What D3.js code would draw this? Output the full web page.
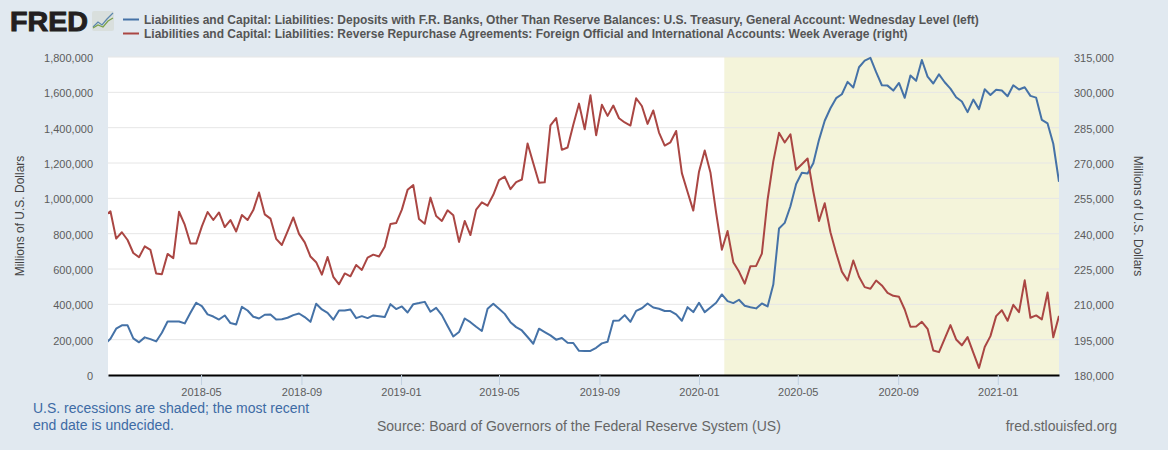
<!DOCTYPE html>
<html>
<head>
<meta charset="utf-8">
<script src="https://cdn.jsdelivr.net/npm/d3@7"></script>
<style>
  html, body { margin: 0; padding: 0; background: #e1e9f0; }
  svg { display: block; font-family: "Liberation Sans", Arial, sans-serif; }
  text { fill: #666; }
</style>
</head>
<body>
<div id="chart"></div>
<script>
// weekly readings, Millions of U.S. Dollars (left axis), in thousands
var treasury = [173,205,262,281,281,207,185,213,203,190,239,303,303,303,292,352,409,390,343,331,314,337,294,286,386,365,330,320,341,343,314,316,324,339,348,328,301,403,371,352,313,365,365,371,322,333,322,337,333,328,401,373,388,354,401,407,414,358,380,339,277,218,243,320,299,273,249,375,403,375,346,299,271,252,215,177,262,243,224,200,209,183,181,137,136,136,154,179,188,307,309,339,301,363,378,405,382,375,362,362,343,307,384,356,409,356,382,409,456,418,407,426,392,384,377,405,388,512,829,861,955,1081,1145,1141,1199,1331,1439,1510,1567,1589,1659,1627,1742,1779,1795,1714,1640,1638,1610,1653,1569,1695,1665,1783,1689,1650,1702,1657,1621,1572,1548,1488,1559,1505,1617,1585,1614,1610,1578,1640,1616,1629,1580,1570,1444,1424,1309,1094];

// week average, Millions of U.S. Dollars (right axis), in thousands
var reverseRepo = [247.6,249.5,237.9,240.6,237.3,231.8,230.0,234.6,233.1,223.1,222.8,231.4,229.6,249.3,243.8,235.8,235.8,243.1,249.2,245.8,249.0,242.8,245.8,240.9,247.9,245.8,250.0,257.5,248.2,246.4,237.8,235.2,241.0,246.9,239.9,236.3,230.3,227.9,222.6,230.1,221.7,218.5,223.1,221.9,226.7,224.6,229.8,231.1,230.3,234.4,244.1,244.5,250.2,258.6,260.6,246.2,244.2,255.3,247.5,245.4,249.9,247.8,236.5,245.4,239.4,250.2,253.3,251.9,256.5,262.7,264.2,258.9,261.9,263.0,278.3,269.9,261.6,261.8,286.0,289.1,275.6,276.6,286.2,295.2,284.3,298.8,281.8,294.7,290.0,294.4,289.0,287.2,285.9,297.5,294.2,286.6,292.3,282.9,277.4,278.8,283.6,265.7,257.7,249.8,266.3,275.3,266.0,248.8,233.2,241.1,227.9,223.9,218.8,226.2,226.3,231.5,254.4,270.7,282.8,278.7,282.2,267.1,269.5,271.9,257.9,245.4,252.9,240.6,231.8,223.9,220.1,228.6,221.7,217.3,216.6,220.1,218.0,214.9,213.6,213.2,207.8,200.5,200.6,202.6,199.6,190.4,189.7,195.4,201.2,195.1,192.6,196.1,189.5,183.0,191.9,196.5,205.0,207.5,203.0,209.8,206.7,220.2,204.3,205.3,203.6,215.0,196.0,205.1];

var leftTicks = [0,200000,400000,600000,800000,1000000,1200000,1400000,1600000,1800000];
var rightTicks = [180000,195000,210000,225000,240000,255000,270000,285000,300000,315000];
var xTicks = ["2018-05-01","2018-09-01","2019-01-01","2019-05-01","2019-09-01","2020-01-01","2020-05-01","2020-09-01","2021-01-01"];

var seriesNames = [
  "Liabilities and Capital: Liabilities: Deposits with F.R. Banks, Other Than Reserve Balances: U.S. Treasury, General Account: Wednesday Level (left)",
  "Liabilities and Capital: Liabilities: Reverse Repurchase Agreements: Foreign Official and International Accounts: Week Average (right)"
];
var recession = ["2020-02-01", "2021-03-17"];

var parse = d3.utcParse("%Y-%m-%d");
var firstWeek = parse("2018-01-03");
var dates = treasury.map(function (d, i) { return d3.utcDay.offset(firstWeek, i * 7); });

var width = 1168, height = 450;
var left = 108, right = 1059, top_ = 57, bottom = 375;

var svg = d3.select("#chart").append("svg").attr("width", width).attr("height", height);

var x = d3.scaleUtc().domain([parse("2018-01-07"), parse("2021-03-17")]).range([left, right]);
var yL = d3.scaleLinear().domain([0, 1800000]).range([bottom, top_]);
var yR = d3.scaleLinear().domain([180000, 315000]).range([bottom, top_]);

svg.append("rect").attr("x", left).attr("y", top_).attr("width", right - left).attr("height", bottom - top_).attr("fill", "#fff");
svg.append("rect")
  .attr("x", x(parse(recession[0])))
  .attr("y", top_)
  .attr("width", x(parse(recession[1])) - x(parse(recession[0])))
  .attr("height", bottom - top_)
  .attr("fill", "#f4f4da");

// gridlines
svg.append("g").selectAll("line").data(leftTicks.slice(1)).enter().append("line")
  .attr("x1", left).attr("x2", right)
  .attr("y1", function (d) { return yL(d); }).attr("y2", function (d) { return yL(d); })
  .attr("stroke", "#e6e6e6").attr("stroke-width", 1);

// axes
var xAxis = d3.axisBottom(x).tickValues(xTicks.map(parse)).tickFormat(d3.utcFormat("%Y-%m"))
  .tickSize(10).tickSizeOuter(0).tickPadding(1);
var gx = svg.append("g").attr("transform", "translate(0," + bottom + ")").call(xAxis);
gx.select(".domain").attr("stroke", "#000").attr("stroke-width", 2);
gx.selectAll(".tick line").attr("stroke", "#c0d0e0");
gx.selectAll("text").style("font-size", "11px").style("fill", "#5c5c5c").attr("dy", "0.9em");

var gl = svg.append("g").attr("transform", "translate(" + left + ",0)")
  .call(d3.axisLeft(yL).tickValues(leftTicks).tickFormat(d3.format(",")).tickSize(0).tickPadding(15));
gl.select(".domain").remove();
gl.selectAll("text").style("font-size", "11px").style("fill", "#5c5c5c").attr("y", 1);

var gr = svg.append("g").attr("transform", "translate(" + right + ",0)")
  .call(d3.axisRight(yR).tickValues(rightTicks).tickFormat(d3.format(",")).tickSize(0).tickPadding(15));
gr.select(".domain").remove();
gr.selectAll("text").style("font-size", "11px").style("fill", "#5c5c5c").attr("y", 1);

// series
svg.append("clipPath").attr("id", "plot").append("rect")
  .attr("x", left).attr("y", top_ - 2).attr("width", right - left).attr("height", bottom - top_ + 4);

var lineL = d3.line().x(function (d, i) { return x(dates[i]); }).y(function (d) { return yL(d * 1000); });
var lineR = d3.line().x(function (d, i) { return x(dates[i]); }).y(function (d) { return yR(d * 1000); });

svg.append("path").datum(treasury).attr("d", lineL).attr("clip-path", "url(#plot)")
  .attr("fill", "none").attr("stroke", "#4572a7").attr("stroke-width", 2).attr("stroke-linejoin", "round");
svg.append("path").datum(reverseRepo).attr("d", lineR).attr("clip-path", "url(#plot)")
  .attr("fill", "none").attr("stroke", "#aa4643").attr("stroke-width", 2).attr("stroke-linejoin", "round");

// axis titles
svg.append("text").attr("transform", "translate(24,216) rotate(-90)").attr("text-anchor", "middle")
  .style("font-size", "12px").style("fill", "#444").text("Millions of U.S. Dollars");
svg.append("text").attr("transform", "translate(1134,216) rotate(90)").attr("text-anchor", "middle")
  .style("font-size", "12px").style("fill", "#444").text("Millions of U.S. Dollars");

// legend
var legendColors = ["#4572a7", "#aa4643"];
var legend = svg.append("g").selectAll("g").data(seriesNames).enter().append("g")
  .attr("transform", function (d, i) { return "translate(123," + (19.5 + i * 14) + ")"; });
legend.append("line").attr("x1", 0).attr("x2", 16)
  .attr("stroke", function (d, i) { return legendColors[i]; }).attr("stroke-width", 2);
legend.append("text").attr("x", 21).attr("y", 4).style("font-size", "12px").style("font-weight", "bold")
  .style("fill", "#555").text(function (d) { return d; });

// logo
svg.append("text").attr("x", 10).attr("y", 31).attr("textLength", 78).attr("lengthAdjust", "spacingAndGlyphs")
  .style("font-size", "28px").style("font-weight", "bold")
  .style("fill", "#231f20").style("stroke", "#231f20").style("stroke-width", 1).text("FRED");
svg.append("rect").attr("x", 92).attr("y", 11).attr("width", 22).attr("height", 20).attr("rx", 2).attr("fill", "#d9dfdd");
svg.append("path").attr("d", "M93 27L98 22L102 25L107 19L113 13").attr("fill", "none").attr("stroke", "#5b87ad").attr("stroke-width", 1.2);
svg.append("path").attr("d", "M93 28L98 25L103 27L108 21L113 18").attr("fill", "none").attr("stroke", "#7aa14a").attr("stroke-width", 1.2);

// footer
svg.append("text").attr("x", 33).attr("y", 413).style("font-size", "14px").style("fill", "#3d6ba5").text("U.S. recessions are shaded; the most recent");
svg.append("text").attr("x", 33).attr("y", 430).style("font-size", "14px").style("fill", "#3d6ba5").text("end date is undecided.");
svg.append("text").attr("x", 377).attr("y", 431).style("font-size", "14px").style("fill", "#666").text("Source: Board of Governors of the Federal Reserve System (US)");
svg.append("text").attr("x", 1117).attr("y", 431).attr("text-anchor", "end").style("font-size", "14px").style("fill", "#666").text("fred.stlouisfed.org");
</script>
</body>
</html>
